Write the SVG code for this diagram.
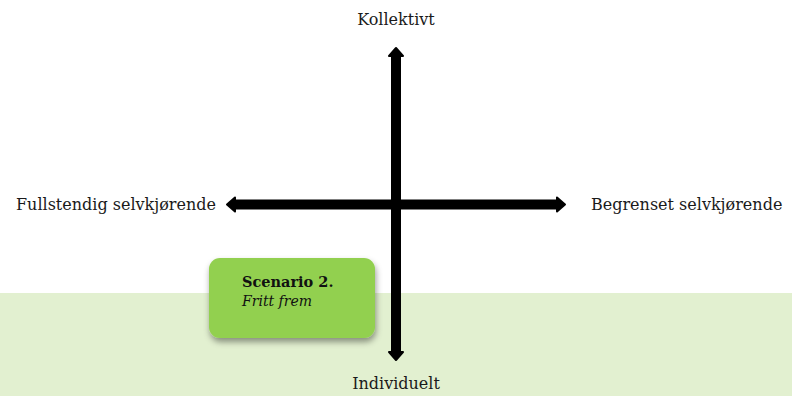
<svg xmlns="http://www.w3.org/2000/svg" width="792" height="396" viewBox="0 0 792 396">
  <style>
    .lbl { font-family: "DejaVu Serif", "Liberation Serif", serif; font-size: 16px; fill: #1a1a1a; }
    .axis { stroke: #000; stroke-width: 10; fill: none; }
    .box { fill: #92D050; }
    .title { font-family: "DejaVu Serif", "Liberation Serif", serif; font-size: 14.5px; font-weight: bold; fill: #111; }
    .sub { font-family: "DejaVu Serif", "Liberation Serif", serif; font-size: 14px; font-style: italic; fill: #111; }
  </style>
  <defs>
    <marker id="head" markerUnits="userSpaceOnUse" markerWidth="24" markerHeight="24" viewBox="-12 -12 24 24" refX="0" refY="0" orient="auto-start-reverse">
      <path d="M8,0 L0,-7 L0,7 Z" fill="#000" stroke="#000" stroke-width="2" stroke-linejoin="round"/>
    </marker>
    <filter id="shadow" x="-20%" y="-20%" width="140%" height="150%">
      <feDropShadow dx="1" dy="4" stdDeviation="3" flood-color="#000" flood-opacity="0.4"/>
    </filter>
  </defs>

  <!-- lower band -->
  <rect x="0" y="293" width="792" height="103" fill="#E2F0D0"/>

  <g id="connectors">
    <line class="axis" x1="396" y1="56" x2="396" y2="352" marker-start="url(#head)" marker-end="url(#head)"/>
    <line class="axis" x1="235" y1="204.5" x2="557" y2="204.5" marker-start="url(#head)" marker-end="url(#head)"/>
  </g>

  <g id="label-top">
    <text class="lbl" x="396" y="25" text-anchor="middle">Kollektivt</text>
  </g>
  <g id="label-bottom">
    <text class="lbl" x="396" y="389" text-anchor="middle">Individuelt</text>
  </g>
  <g id="label-left">
    <text class="lbl" x="216" y="210" text-anchor="end">Fullstendig selvkjørende</text>
  </g>
  <g id="label-right">
    <text class="lbl" x="591" y="210">Begrenset selvkjørende</text>
  </g>

  <g id="scenario-2">
    <rect class="box" x="209" y="258" width="166" height="80" rx="11" ry="11" filter="url(#shadow)"/>
    <text class="title" x="242" y="287">Scenario 2.</text>
    <text class="sub" x="242" y="306">Fritt frem</text>
  </g>
</svg>
